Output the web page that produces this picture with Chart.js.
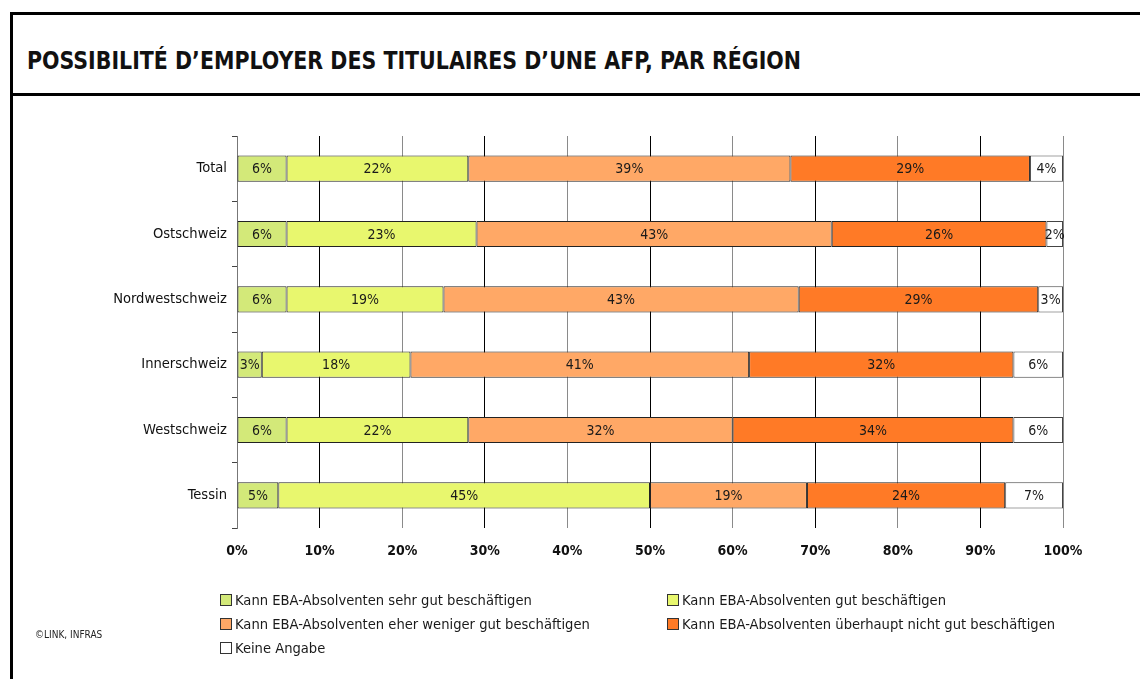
<!DOCTYPE html>
<html>
<head>
<meta charset="utf-8">
<script src="https://cdn.jsdelivr.net/npm/chart.js@4"></script>
<style>
  html, body { margin: 0; padding: 0; background: #fff; }
  #wrap { position: relative; width: 1140px; height: 679px; overflow: hidden; font-family: "DejaVu Sans Condensed", "DejaVu Sans", sans-serif; }
  .line { position: absolute; background: #000; }
  #title { position: absolute; left: 27px; top: 46px; font-size: 25px; font-weight: bold; color: #111; white-space: nowrap; transform: scaleX(0.914); transform-origin: 0 0; }
  #copy { position: absolute; left: 35px; top: 629px; font-size: 10px; color: #222; }
  #legend { position: absolute; left: 220px; top: 591px; }
  .item { position: absolute; white-space: nowrap; font-size: 14.6px; color: #1a1a1a; line-height: 18px; }
  .box { display: inline-block; width: 10px; height: 10px; border: 1px solid #333; margin-right: 3px; vertical-align: -1px; }
  canvas { position: absolute; left: 0; top: 0; }
</style>
</head>
<body>
<div id="wrap">
  <div class="line" style="left:10px;top:12px;width:1130px;height:3px"></div>
  <div class="line" style="left:10px;top:12px;width:3px;height:667px"></div>
  <div class="line" style="left:10px;top:93px;width:1130px;height:3px"></div>
  <div id="title">POSSIBILITÉ D’EMPLOYER DES TITULAIRES D’UNE AFP, PAR RÉGION</div>
  <canvas id="mychart" width="1140" height="679"></canvas>
  <div id="legend"></div>
  <div id="copy">©LINK, INFRAS</div>
</div>
<script>
var regions = ['Total', 'Ostschweiz', 'Nordwestschweiz', 'Innerschweiz', 'Westschweiz', 'Tessin'];
var seriesNames = [
  'Kann EBA-Absolventen sehr gut beschäftigen',
  'Kann EBA-Absolventen gut beschäftigen',
  'Kann EBA-Absolventen eher weniger gut beschäftigen',
  'Kann EBA-Absolventen überhaupt nicht gut beschäftigen',
  'Keine Angabe'
];
var sehrGut = [6, 6, 6, 3, 6, 5];
var gut = [22, 23, 19, 18, 22, 45];
var eherWeniger = [39, 43, 43, 41, 32, 19];
var nichtGut = [29, 26, 29, 32, 34, 24];
var keineAngabe = [4, 2, 3, 6, 6, 7];
var xTicks = [0, 10, 20, 30, 40, 50, 60, 70, 80, 90, 100];

var colors = ['#d3e979', '#e8f76e', '#ffa866', '#ff7a26', '#ffffff'];
var allValues = [sehrGut, gut, eherWeniger, nichtGut, keineAngabe];

var datasets = [];
for (var i = 0; i < allValues.length; i++) {
  datasets.push({
    label: seriesNames[i],
    data: allValues[i],
    backgroundColor: colors[i],
    borderColor: i == 4 ? '#444' : '#222',
    borderWidth: 1,
    borderSkipped: false,
    barPercentage: 0.4,
    categoryPercentage: 1
  });
}

// percent text in the middle of every segment
var segmentLabels = {
  id: 'segmentLabels',
  afterDatasetsDraw: function(chart) {
    var ctx = chart.ctx;
    ctx.save();
    ctx.font = '14px "DejaVu Sans Condensed", "DejaVu Sans", sans-serif';
    ctx.fillStyle = '#1a1a1a';
    ctx.textAlign = 'center';
    ctx.textBaseline = 'middle';
    chart.data.datasets.forEach(function(ds, di) {
      var meta = chart.getDatasetMeta(di);
      meta.data.forEach(function(bar, j) {
        var cx = (bar.x + bar.base) / 2;
        ctx.fillText(ds.data[j] + '%', cx, bar.y + 1);
      });
    });
    ctx.restore();
  }
};

var ctx = document.getElementById('mychart');
var chart = new Chart(ctx, {
  type: 'bar',
  data: { labels: regions, datasets: datasets },
  plugins: [segmentLabels],
  options: {
    indexAxis: 'y',
    responsive: false,
    animation: false,
    layout: { padding: { top: 136, right: 77, left: 0, bottom: 0 } },
    plugins: { legend: { display: false }, tooltip: { enabled: false } },
    scales: {
      x: {
        stacked: true,
        min: 0,
        max: 100,
        afterBuildTicks: function(scale) {
          scale.ticks = xTicks.map(function(v) { return { value: v }; });
        },
        afterFit: function(scale) { scale.height = 151; },
        ticks: {
          padding: 15,
          color: '#111',
          font: { family: '"DejaVu Sans Condensed", "DejaVu Sans", sans-serif', size: 14, weight: 'bold' },
          callback: function(v) { return v + '%'; }
        },
        grid: {
          drawTicks: false,
          color: function(c) { return c.index % 2 == 1 ? '#000' : '#8a8a8a'; },
          lineWidth: 1
        },
        border: { display: false }
      },
      y: {
        stacked: true,
        offset: true,
        afterFit: function(scale) { scale.width = 237; },
        ticks: {
          padding: 5,
          color: '#111',
          font: { family: '"DejaVu Sans Condensed", "DejaVu Sans", sans-serif', size: 14.6 }
        },
        grid: { offset: true, drawOnChartArea: false, tickLength: 5, color: '#444' },
        border: { display: true, color: '#777', width: 1 }
      }
    }
  }
});

// legend in two columns, like the original
var legend = document.getElementById('legend');
var colX = [0, 447];
for (var k = 0; k < seriesNames.length; k++) {
  var item = document.createElement('div');
  item.className = 'item';
  item.style.left = colX[k % 2] + 'px';
  item.style.top = (Math.floor(k / 2) * 24) + 'px';
  item.innerHTML = '<span class="box" style="background:' + colors[k] + '"></span>' + seriesNames[k];
  legend.appendChild(item);
}
</script>
</body>
</html>
